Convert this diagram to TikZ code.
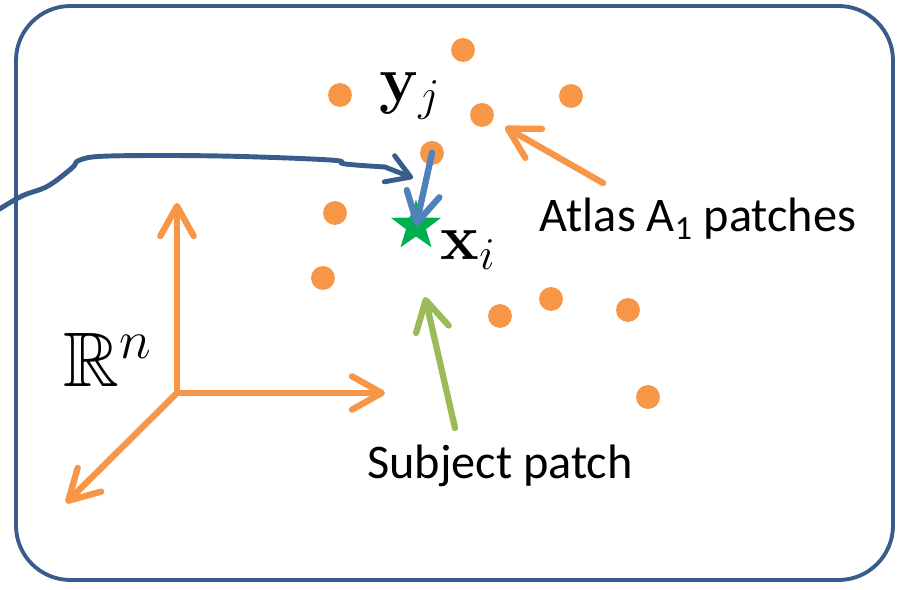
\RequirePackage{fix-cm}
\documentclass[tikz,border=0pt]{standalone}
\usepackage{amsmath}
\usepackage{amssymb}
\usepackage[no-math]{fontspec}
\newfontfamily\calfont{Carlito}
\usetikzlibrary{arrows.meta,positioning,shapes.geometric}
\definecolor{frameblue}{RGB}{56,93,138}
\definecolor{patchorange}{RGB}{247,150,70}
\definecolor{matchblue}{RGB}{79,129,189}
\definecolor{subjgreen}{RGB}{155,187,89}
\definecolor{stargreen}{RGB}{0,176,80}

\begin{document}
\begin{tikzpicture}[x=0.02cm, y=-0.02cm,
  patch/.style={circle, fill=patchorange, inner sep=0pt, minimum size=13.6pt},
  barb/.style={-{Straight Barb[length=17pt, width=19pt, round]}, line cap=round, line join=round},
  axis/.style={barb, patchorange, line width=3.6pt},
  pointer/.style={barb, line width=3.6pt},
  caption/.style={font=\calfont\fontsize{27.5}{32}\selectfont},
  mathlbl/.style={font=\fontsize{37}{44}\selectfont}]
\useasboundingbox (0,0) rectangle (903,590);
% Space frame
\draw[frameblue, line width=2.2pt, rounded corners=31pt] (16,6) rectangle (893,580);
% Atlas patches
\foreach \px/\py [count=\k] in {463/50, 340/95, 571/96, 482/115, 432/153, 335/213, 323/278, 500/316, 551/299, 628/310, 648/397} {
  \node[patch] (p\k) at (\px,\py) {};
}
% Subject patch
\node[star, star points=5, star point ratio=2.5, fill=stargreen, inner sep=0pt, minimum size=30pt] (xi) at (416,226) {};
\node[mathlbl] (ylbl) at (410,96) {$\mathbf{y}_j$};
\node[mathlbl] (xlbl) at (468,250) {$\mathbf{x}_i$};
% Coordinate axes
\coordinate (o) at (177,393);
\coordinate (e1) at (385,393);
\coordinate (e2) at (177,203);
\coordinate (e3) at (66,503);
\draw[axis] (o) -- (e1);
\draw[axis] (o) -- (e2);
\draw[axis] (o) -- (e3);
\node[font=\fontsize{44}{50}\selectfont] (rn) at (108,360) {$\mathbb{R}^n$};
% Incoming search path
\coordinate (sin) at (-2,210);
\coordinate (sout) at (413,178);
\draw[frameblue, line width=2.8pt, line cap=round, -{Straight Barb[length=13pt, width=16pt, round]}]
  plot[smooth, tension=0.6] coordinates {(sin) (22,196) (48,186) (72,168) (80,160) (110,156) (220,156) (330,160) (345,164) (385,167)} -- (sout);
% Match of y_j to x_i
\draw[pointer, matchblue] (p5.center) -- (xi.center);
% Captions
\node[caption] (atlas) at (698,219) {Atlas A\textsubscript{1} patches};
\node[caption] (subj) at (500,466) {Subject patch};
\coordinate (atail) at (603,183);
\coordinate (atip) at (505,127);
\coordinate (stail) at (455,428);
\coordinate (stip) at (425,297);
\draw[pointer, patchorange] (atail) -- (atip);
\draw[pointer, subjgreen] (stail) -- (stip);
\end{tikzpicture}
\end{document}
